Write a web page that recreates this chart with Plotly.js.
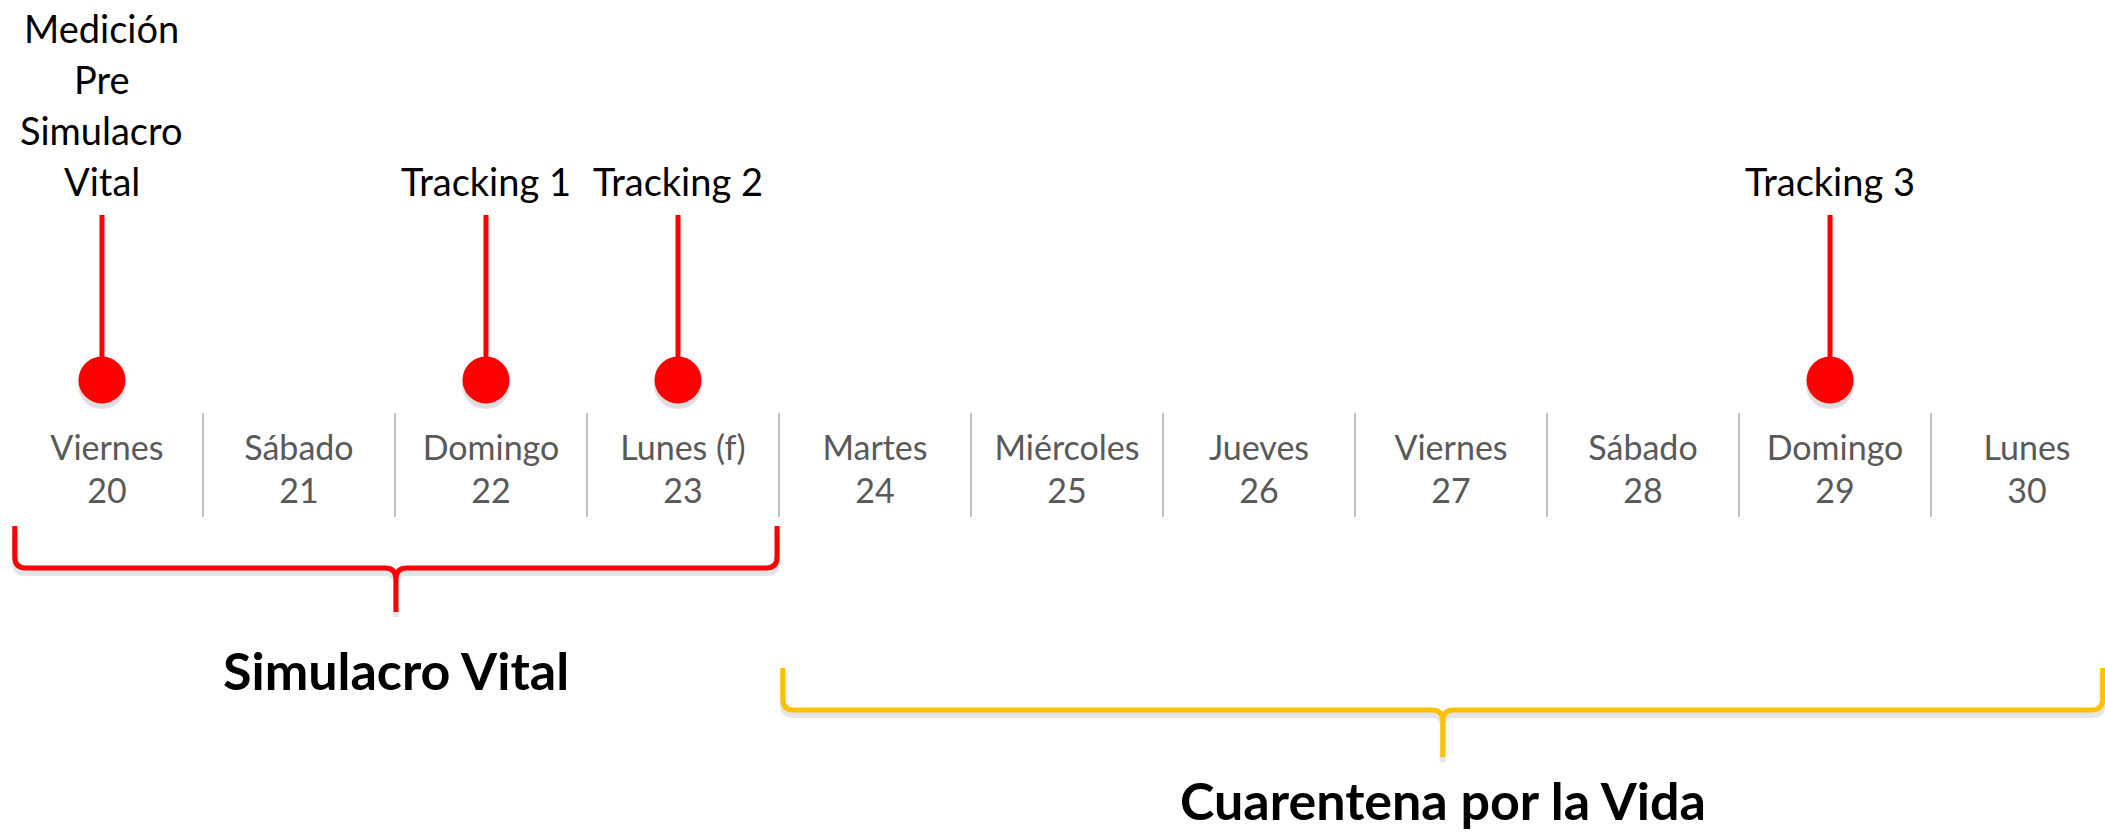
<!DOCTYPE html>
<html>
<head>
<meta charset="utf-8">
<script src="https://cdn.plot.ly/plotly-3.0.1.min.js"></script>
<style>html,body{margin:0;padding:0;background:#fff}#chart{width:2105px;height:838px}</style>
</head>
<body>
<div id="chart"></div>
<script>
// ---- data ----
const days = ['Viernes','Sábado','Domingo','Lunes (f)','Martes','Miércoles','Jueves','Viernes','Sábado','Domingo','Lunes'];
const dates = [20,21,22,23,24,25,26,27,28,29,30];
const milestones = ['Medición<br>Pre<br>Simulacro<br>Vital','Tracking 1','Tracking 2','Tracking 3'];
const milestoneDates = [20,22,23,29];
const phases = ['Simulacro Vital','Cuarentena por la Vida'];
const phaseStart = [20,24];
const phaseEnd = [23,30];
const phaseColors = ['#ff0000','#ffc000'];

// ---- layout constants (pixel rows on a reversed y axis) ----
const W = 2105, H = 838;
const xRange = [19.443, 30.406];
const pxPerDay = W / (xRange[1] - xRange[0]);
const markOffset = -5 / pxPerDay;   // lollipops sit slightly left of the day centre
const stemTop = 215, dotY = 380;
const labelBaseline = 193, labelLineGap = 51;
const dayNameY = 451, dayNumY = 494;
const sepTop = 413, sepBottom = 517;
const braceRows = [
  {top: 526, h: 568, tip: 612, textY: 670},
  {top: 668, h: 710, tip: 757, textY: 800}
];
const FONT = 'Lato, "Open Sans", sans-serif';

const traces = [];

// separators between days
const sx = [], sy = [];
for (let i = 0; i < dates.length - 1; i++) {
  const x = (dates[i] + dates[i+1]) / 2;
  sx.push(x, x, null); sy.push(sepTop, sepBottom, null);
}
traces.push({x: sx, y: sy, mode: 'lines', line: {color: '#c0c0c0', width: 2}, hoverinfo: 'skip'});

// day labels
traces.push({x: dates, y: dates.map(() => dayNameY), mode: 'text', text: days,
  textposition: 'middle center', textfont: {family: FONT, size: 34, color: '#595959'}, hoverinfo: 'skip'});
traces.push({x: dates, y: dates.map(() => dayNumY), mode: 'text', text: dates.map(String),
  textposition: 'middle center', textfont: {family: FONT, size: 34, color: '#595959'}, hoverinfo: 'skip'});

// stems
const mPos = milestoneDates.map(d => d + markOffset);
const mx = [], my = [];
mPos.forEach(d => { mx.push(d, d, null); my.push(stemTop, dotY, null); });
traces.push({x: mx, y: my, mode: 'lines', line: {color: '#ff0000', width: 5}, hoverinfo: 'skip'});
// dot shadow
traces.push({x: mPos, y: mPos.map(() => dotY + 5), mode: 'markers',
  marker: {size: 48, color: 'rgba(0,0,0,0.13)', line: {width: 0}}, hoverinfo: 'skip'});
// dots
traces.push({x: mPos, y: mPos.map(() => dotY), mode: 'markers',
  marker: {size: 47, color: '#ff0000', line: {width: 0}}, hoverinfo: 'skip'});

// braces
const shapes = [];
const annotations = [];
function bracePath(x0, x1, r, shift) {
  const rx = 11 / pxPerDay, ry = 11;
  const xc = (x0 + x1) / 2;
  const t = r.top + shift, h = r.h + shift, tip = r.tip + shift;
  return `M ${x0},${t} L ${x0},${h-ry} Q ${x0},${h} ${x0+rx},${h} L ${xc-rx},${h} Q ${xc},${h} ${xc},${h+ry} L ${xc},${tip} ` +
         `M ${xc},${h+ry} Q ${xc},${h} ${xc+rx},${h} L ${x1-rx},${h} Q ${x1},${h} ${x1},${h-ry} L ${x1},${t}`;
}
phases.forEach((p, i) => {
  const x0 = phaseStart[i] - 0.48;
  const x1 = Math.min(phaseEnd[i] + 0.49, xRange[1] - 0.012);
  const r = braceRows[i];
  shapes.push({type: 'path', xref: 'x', yref: 'y', path: bracePath(x0, x1, r, 5),
    line: {color: 'rgba(0,0,0,0.10)', width: 6}, layer: 'below'});
  shapes.push({type: 'path', xref: 'x', yref: 'y', path: bracePath(x0, x1, r, 0),
    line: {color: phaseColors[i], width: 5}});
  annotations.push({x: (x0 + x1) / 2, y: r.textY, xref: 'x', yref: 'y', text: '<b>' + p + '</b>',
    showarrow: false, xanchor: 'center', yanchor: 'middle', borderpad: 0,
    font: {family: FONT, size: 52, color: '#000000'}});
});

// milestone labels (one annotation per text line, stacked upward from the baseline row)
milestones.forEach((m, i) => {
  const lines = m.split('<br>');
  lines.forEach((ln, k) => {
    const yMid = labelBaseline - 12 - (lines.length - 1 - k) * labelLineGap;
    annotations.push({x: mPos[i], y: yMid, xref: 'x', yref: 'y', text: ln,
      showarrow: false, xanchor: 'center', yanchor: 'middle',
      font: {family: FONT, size: 38, color: '#000000'}});
  });
});

const layout = {
  width: W, height: H,
  margin: {l: 0, r: 0, t: 0, b: 0},
  paper_bgcolor: '#ffffff', plot_bgcolor: '#ffffff',
  showlegend: false,
  xaxis: {range: xRange, visible: false, fixedrange: true},
  yaxis: {range: [H, 0], visible: false, fixedrange: true},
  shapes: shapes,
  annotations: annotations
};

Plotly.newPlot('chart', traces, layout, {displayModeBar: false, staticPlot: true});
</script>
</body>
</html>
